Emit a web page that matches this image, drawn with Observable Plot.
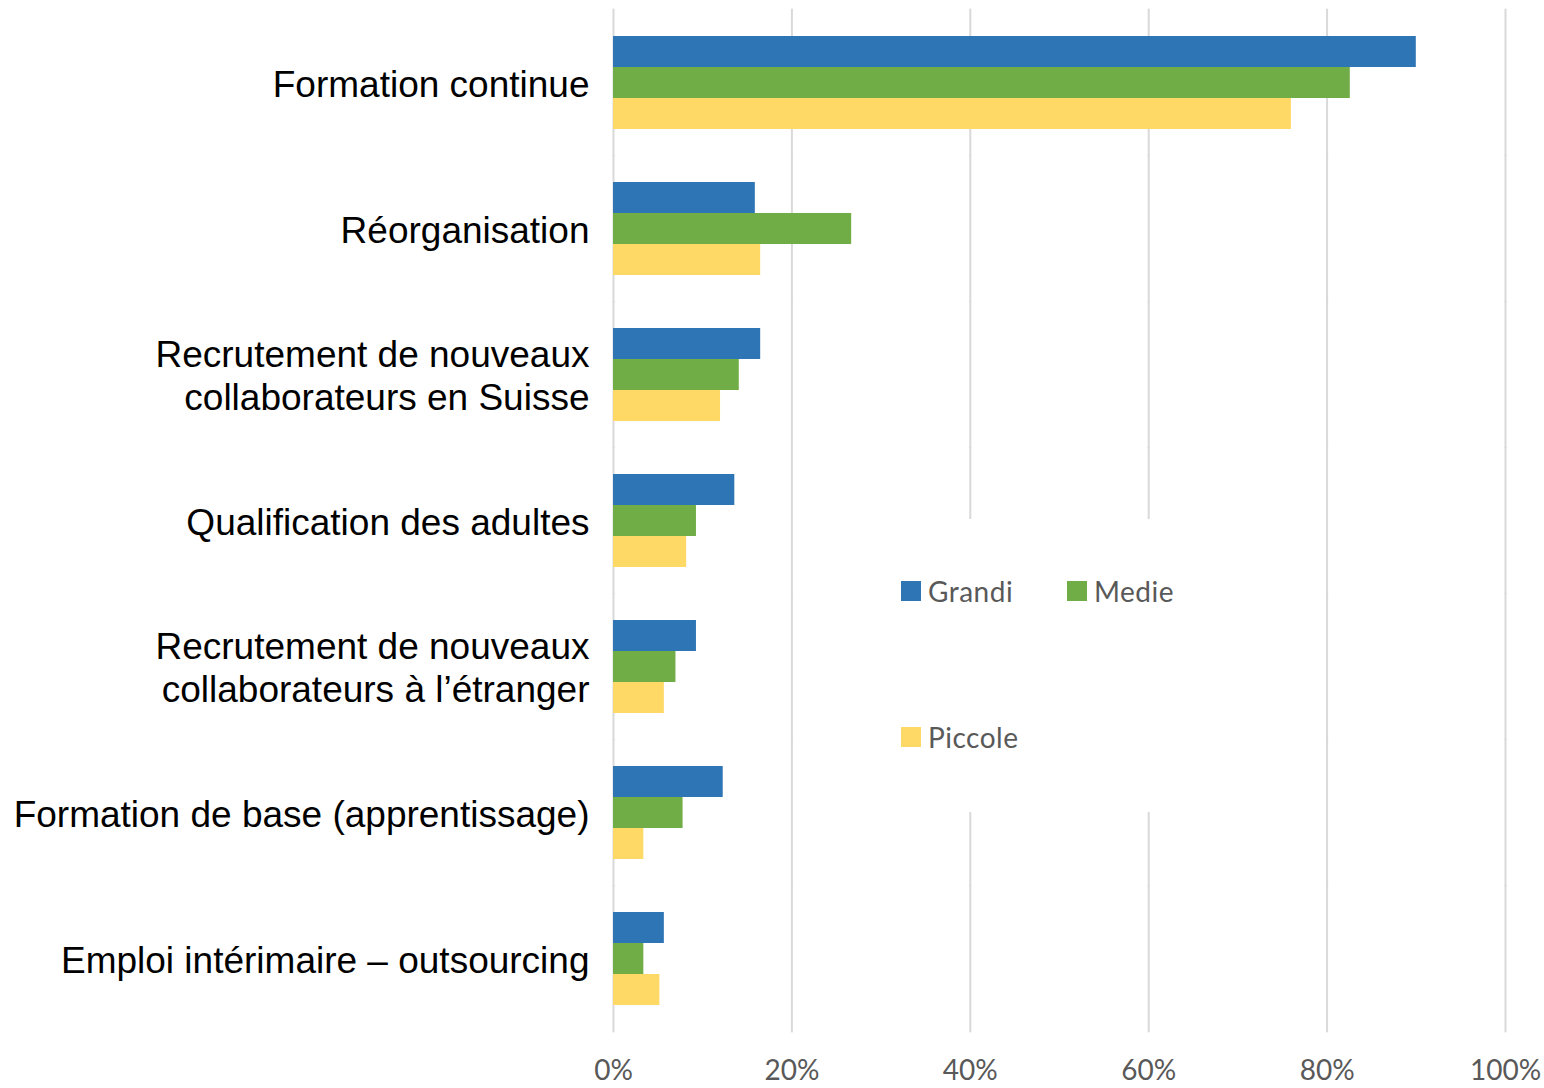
<!DOCTYPE html>
<html>
<head>
<meta charset="utf-8">
<script src="https://cdn.jsdelivr.net/npm/d3@7"></script>
<script src="https://cdn.jsdelivr.net/npm/@observablehq/plot@0.6"></script>
<style>
  html, body { margin: 0; padding: 0; background: white; }
  #wrap { position: relative; width: 1544px; height: 1088px; overflow: hidden; }
  #legend { position: absolute; left: 893px; top: 519px; width: 428px; height: 293px; background: white; }
  .item { position: absolute; display: flex; align-items: center; font-family: Lato, "Open Sans", sans-serif; font-size: 28px; color: #595959; letter-spacing: 0.5px; }
  .sw { width: 20px; height: 20px; margin-right: 7px; }
</style>
</head>
<body>
<div id="wrap"></div>
<script>
const categories = [
  "Formation continue",
  "Réorganisation",
  "Recrutement de nouveaux\ncollaborateurs en Suisse",
  "Qualification des adultes",
  "Recrutement de nouveaux\ncollaborateurs à l’étranger",
  "Formation de base (apprentissage)",
  "Emploi intérimaire – outsourcing"
];
const series = ["Grandi", "Medie", "Piccole"];
const grandi  = [0.900, 0.159, 0.165, 0.136, 0.093, 0.123, 0.057];
const medie   = [0.826, 0.267, 0.141, 0.093, 0.070, 0.078, 0.034];
const piccole = [0.760, 0.165, 0.120, 0.082, 0.057, 0.034, 0.052];
const xTicks = [0, 0.2, 0.4, 0.6, 0.8, 1];
const colors = ["#2E75B6", "#70AD47", "#FFD966"];

const seriesValues = [grandi, medie, piccole];
const data = categories.flatMap((c, i) =>
  series.map((s, j) => ({category: c, series: s, value: seriesValues[j][i]}))
);

const W = 1544, H = 1088, mt = 7, mb = 54;
const padInner = 0.366, padOuter = 0.183;
const step = (H - mt - mb) / categories.length;
const gap = step * padInner / 2 + 0.5; // extend gridlines across the gaps between facets

const chart = Plot.plot({
  width: W,
  height: H,
  marginLeft: 613,
  marginRight: 39,
  marginTop: mt,
  marginBottom: mb,
  x: {domain: [0, 1]},
  y: {domain: series, padding: 0, axis: null},
  fy: {domain: categories, paddingInner: padInner, paddingOuter: padOuter, label: null},
  color: {domain: series, range: colors},
  style: {fontFamily: "'Liberation Sans', Arial, sans-serif", background: "white"},
  marks: [
    Plot.ruleX(xTicks, {x: d => d, stroke: "#d9d9d9", strokeWidth: 2, insetTop: -gap, insetBottom: -gap}),
    Plot.barX(data, {x: "value", y: "series", fy: "category", fill: "series"}),
    Plot.axisX({ticks: xTicks, tickFormat: d3.format(".0%"), tickSize: 0, tickPadding: 27 + gap,
                fontSize: 28, fontFamily: "Lato", color: "#595959", label: null}),
    Plot.axisFy({anchor: "left", tickSize: 0, tickPadding: 24, fontSize: 37, lineHeight: 1.14,
                 color: "#000", label: null})
  ]
});

const wrap = document.getElementById("wrap");
wrap.appendChild(chart);

// Legend (overlaid in the plot area, like the original)
const legend = document.createElement("div");
legend.id = "legend";
wrap.appendChild(legend);
const legendPos = [[8, 57], [174, 57], [8, 203]];
series.forEach((s, i) => {
  const it = document.createElement("div");
  it.className = "item";
  it.style.left = legendPos[i][0] + "px";
  it.style.top = (legendPos[i][1] - 2) + "px";
  const sw = document.createElement("div");
  sw.className = "sw";
  sw.style.background = colors[i];
  const tx = document.createElement("span");
  tx.textContent = s;
  it.appendChild(sw);
  it.appendChild(tx);
  legend.appendChild(it);
});
</script>
</body>
</html>
